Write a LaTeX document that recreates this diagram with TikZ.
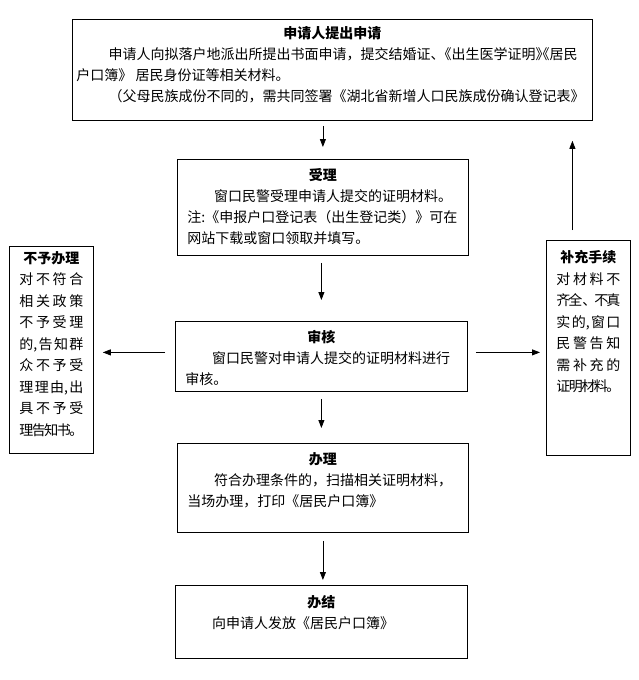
\documentclass[tikz,border=0pt]{standalone}
\usepackage{fontspec}
\setmainfont{Noto Sans CJK SC}
\usetikzlibrary{arrows.meta}
\makeatletter
% one line of a narrow box, spread over its width
\newcommand\jline[1]{\hbox to\linewidth{\def\jsep{}\@tfor\jch:=#1\do{\jsep\jch\def\jsep{\hskip 0pt plus 1fil minus 2pt}}}}
\makeatother

\begin{document}
\begin{tikzpicture}[x=1pt,y=-1pt,font=\fontsize{14}{21}\selectfont,
  box/.style={draw,line width=0.8pt,anchor=north west,inner xsep=10pt,inner ysep=0pt},
  arr/.style={-{Triangle[length=8pt,width=6pt]},line width=0.8pt}]
\useasboundingbox (0,0) rectangle (638,680);
% main column
\node[box,inner xsep=4pt] (sq) at (72,19) {\parbox[t][101pt][t]{512pt}{\vspace*{7pt}
{\centering\bfseries 申请人提出申请\par}
\hspace*{2.3em}申请人向拟落户地派出所提出书面申请，提交结婚证、\kern-0.5em《出生医学证明》\kern-1em《居民\\
户口簿》 居民身份证等相关材料。\\
\hspace*{2.3em}（父母民族成份不同的，需共同签署《湖北省新增人口民族成份确认登记表》}};
\node[box] (sl) at (177,159) {\parbox[t][96pt][t]{271pt}{\vspace*{9pt}
{\centering\bfseries 受理\par}
\hspace*{1.9em}窗口民警受理申请人提交的证明材料。\\
注:《申报户口登记表（出生登记类）》可在\\
网站下载或窗口领取并填写。}};
\node[box] (shen) at (175,321) {\parbox[t][70pt][t]{272pt}{\vspace*{9pt}
{\centering\bfseries 审核\par}
\hspace*{1.9em}窗口民警对申请人提交的证明材料进行\\
审核。}};
\node[box] (bl) at (177,443) {\parbox[t][89pt][t]{271pt}{\vspace*{9pt}
{\centering\bfseries 办理\par}
\hspace*{1.9em}符合办理条件的，扫描相关证明材料，\\
当场办理，打印《居民户口簿》}};
\node[box] (bj) at (175,585) {\parbox[t][73pt][t]{272pt}{\vspace*{10pt}
{\centering\bfseries 办结\par}
\hspace*{1.9em}向申请人发放《居民户口簿》}};
% side boxes
\node[box] (by) at (9,246) {\parbox[t][207pt][t]{64pt}{\fontsize{14}{21.5}\selectfont\vspace*{5pt}
{\centering\bfseries 不予办理\par}
\jline{对不符合}\jline{相关政策}\jline{不予受理}\jline{{的,}告知群}
\jline{众不予受}\jline{理理{由,}出}\jline{具不予受}\jline{理告知书。}}};
\node[box] (bc) at (546,240) {\parbox[t][215pt][t]{64pt}{\fontsize{14}{21.5}\selectfont\vspace*{10pt}
{\centering\bfseries 补充手续\par}
\jline{对材料不}\jline{齐{全、}不真}\jline{实{的,}窗口}
\jline{民警告知}\jline{需补充的}\jline{证明材料。}}};
% arrows
\draw[arr,shorten <=5pt,shorten >=12pt] (sl.north |- sq.south) -- (sl.north);
\draw[arr,shorten <=7pt,shorten >=21pt] (shen.north |- sl.south) -- (shen.north);
\draw[arr,shorten <=7pt,shorten >=15pt] (shen.south) -- (shen.south |- bl.north);
\draw[arr,shorten <=8pt,shorten >=5pt] (bl.south) -- (bl.south |- bj.north);
\coordinate (ml) at ([yshift=4pt]shen.west);
\draw[arr,shorten <=10pt,shorten >=9pt] (ml) -- (ml -| by.east);
\coordinate (mr) at ([yshift=4pt]shen.east);
\draw[arr,shorten <=8pt,shorten >=6pt] (mr) -- (mr -| bc.west);
\coordinate (up) at ([xshift=-16pt]bc.north);
\draw[arr,shorten <=10pt,shorten >=20pt] (up) -- (up |- sq.south);
\end{tikzpicture}
\end{document}
